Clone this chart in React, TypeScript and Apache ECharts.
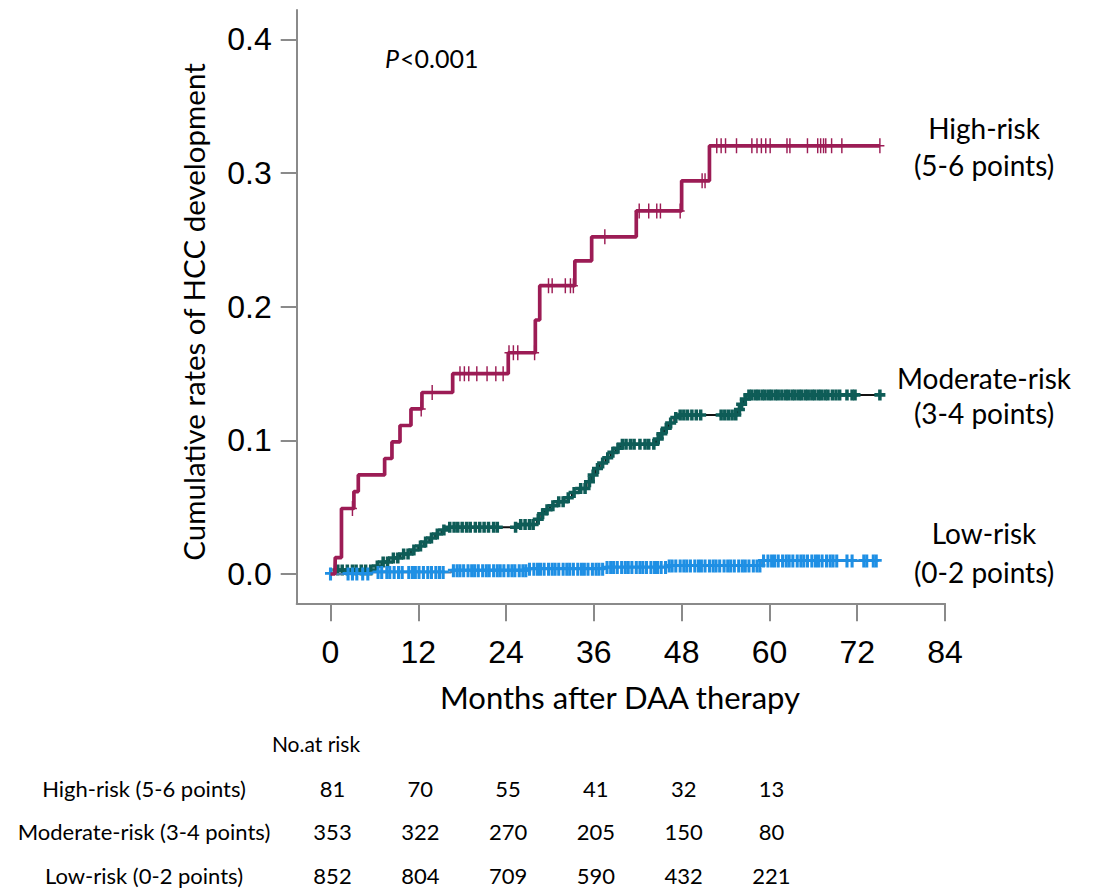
import React, { useEffect, useRef } from "react";
import * as echarts from "echarts";

// ---------------- data ----------------
const xTicks = [0, 12, 24, 36, 48, 60, 72, 84];
const yTicks = [0, 0.1, 0.2, 0.3, 0.4];

const groupNames = ["High-risk (5-6 points)", "Moderate-risk (3-4 points)", "Low-risk (0-2 points)"];
const curveLabels = [
  ["High-risk", "(5-6 points)"],
  ["Moderate-risk", "(3-4 points)"],
  ["Low-risk", "(0-2 points)"],
];

// Kaplan–Meier cumulative incidence steps: [month, cumulative rate from that month on]
const highSteps: [number, number][] = [
  [0, 0], [0.6, 0], [0.65, 0.0123], [1.5, 0.049], [3.2, 0.0617], [3.8, 0.0741],
  [7.4, 0.0864], [8.4, 0.0988], [9.5, 0.1111], [11.0, 0.1235], [12.5, 0.1358],
  [16.7, 0.1499], [24.3, 0.1655], [28.0, 0.19], [28.6, 0.2157], [33.4, 0.2343],
  [35.7, 0.2522], [41.8, 0.2716], [48.0, 0.2941], [51.8, 0.3203], [75.1, 0.3203],
];
const moderateSteps: [number, number][] = [
  [0, 0], [0.7, 0.003], [6.2, 0.006], [7.0, 0.009], [8.0, 0.012], [9.5, 0.015],
  [11.0, 0.018], [12.0, 0.021], [12.8, 0.024], [13.5, 0.027], [14.3, 0.030],
  [15.2, 0.033], [16.0, 0.035], [25.5, 0.037], [28.2, 0.041], [28.6, 0.045],
  [29.3, 0.048], [30.0, 0.051], [31.0, 0.054], [32.0, 0.057], [33.0, 0.061],
  [34.0, 0.064], [35.0, 0.069], [35.6, 0.074], [36.2, 0.079], [36.8, 0.083],
  [37.6, 0.087], [38.3, 0.091], [39.0, 0.094], [39.6, 0.097], [44.5, 0.101],
  [45.0, 0.105], [45.6, 0.109], [46.2, 0.113], [47.0, 0.117], [47.5, 0.119],
  [55.6, 0.123], [56.0, 0.127], [56.4, 0.131], [56.8, 0.134], [75.3, 0.134],
];
const lowSteps: [number, number][] = [
  [0, 0], [5.5, 0.0012], [16.5, 0.0024], [27.0, 0.0036], [37.5, 0.0048],
  [46.0, 0.006], [59.0, 0.0097], [74.6, 0.0097],
];

// censored observations (months)
const highCensor = [
  3.0, 12.4, 13.9, 17.7, 18.3, 18.9, 20.0, 21.4, 22.6, 23.6, 24.4, 25.0, 25.6, 27.9,
  29.8, 30.3, 32.1, 32.8, 33.2, 37.5, 42.2, 43.5, 44.6, 45.1, 47.8, 50.8, 51.2,
  52.8, 53.4, 54.0, 55.5, 57.6, 58.3, 58.9, 59.5, 60.1, 62.4, 62.8, 65.2, 66.6,
  67.0, 67.4, 67.7, 68.5, 69.9, 75.1,
];
const moderateCensor = [
  1.0, 1.6, 2.3, 3.0, 3.5, 4.2, 4.8, 5.5, 6.4, 7.2, 7.8, 8.6, 9.2, 10.0, 10.6, 11.4,
  12.3, 13.0, 13.8, 14.6, 15.5, 16.3, 16.9, 17.4, 18.0, 18.6, 19.1, 19.8, 20.4, 21.0,
  21.6, 22.3, 22.8, 25.3, 26.0, 26.6, 27.2, 27.7, 28.4, 29.0, 29.6, 30.4, 31.2, 31.8,
  32.5, 33.3, 34.2, 34.8, 35.4, 35.9, 36.5, 37.2, 37.9, 38.6, 39.3, 39.9, 40.4, 41.0,
  41.5, 42.3, 43.0, 43.5, 44.2, 44.8, 45.3, 45.9, 46.5, 47.2, 47.8, 48.3, 48.8, 49.4,
  50.0, 50.6, 53.4, 53.9, 54.4, 54.9, 55.4, 55.9, 56.2, 56.7, 57.2, 57.6, 58.1, 58.5,
  59.0, 59.4, 59.9, 60.3, 60.8, 61.2, 61.7, 62.2, 62.6, 63.1, 63.5, 64.0, 64.4, 64.9,
  65.3, 65.8, 66.2, 66.7, 67.1, 67.6, 68.0, 68.6, 69.1, 69.6, 70.6, 71.3, 71.7, 75.1,
];
const lowCensor = [
  0.0, 2.4, 3.0, 3.6, 4.4, 5.1, 6.5, 7.0, 7.7, 8.1, 8.7, 9.3, 9.8, 10.7, 11.2, 11.6,
  12.1, 12.7, 13.3, 13.8, 14.4, 14.9, 15.4, 16.8, 17.3, 17.7, 18.2, 18.8, 19.3, 19.7,
  20.2, 20.8, 21.3, 21.7, 22.3, 22.8, 23.2, 23.7, 24.3, 24.8, 25.2, 25.8, 26.3, 26.7,
  27.2, 27.8, 28.3, 28.7, 29.2, 29.8, 30.3, 30.7, 31.2, 31.8, 32.3, 32.7, 33.2, 33.8,
  34.3, 34.7, 35.2, 35.8, 36.3, 36.7, 37.2, 37.8, 38.3, 38.7, 39.2, 39.8, 40.3, 40.7,
  41.2, 41.8, 42.3, 42.7, 43.2, 43.8, 44.3, 44.7, 45.2, 45.8, 46.3, 46.7, 47.2, 47.8,
  48.3, 48.7, 49.2, 49.8, 50.3, 50.7, 51.2, 51.8, 52.3, 52.7, 53.2, 53.8, 54.3, 54.7,
  55.2, 55.8, 56.3, 56.7, 57.2, 57.8, 58.3, 58.7, 59.2, 59.8, 60.3, 60.7, 61.2, 61.8,
  62.3, 62.7, 63.2, 63.8, 64.3, 64.7, 65.2, 65.8, 66.3, 66.7, 67.2, 67.8, 68.3, 68.7,
  69.2, 70.6, 71.3, 72.9, 73.3, 74.2, 74.6,
];

// numbers at risk
const atRiskTimes = [0, 12, 24, 36, 48, 60];
const atRiskHigh = [81, 70, 55, 41, 32, 13];
const atRiskModerate = [353, 322, 270, 205, 150, 80];
const atRiskLow = [852, 804, 709, 590, 432, 221];

const pValueText = "<0.001";

// ---------------- styles ----------------
const HIGH = "#9c1c55";
const MOD_MARK = "#0e5c57";
const MOD_LINE = "#111111";
const LOW = "#1e8fe4";
const AXIS = "#8a8a8a";
const TITLE_FONT = "Lato";
const TICK_FONT = "Liberation Sans";

const PLUS_THIN = "path://M4.2,0H5.8V7.2H10V8.8H5.8V16H4.2V8.8H0V7.2H4.2Z";
const PLUS_BOLD = "path://M3.4,0H6.6V3.4H10V6.6H6.6V10H3.4V6.6H0V3.4H3.4Z";
const PLUS_LOW = "path://M3.6,0H6.4V4.2H10V6.6H6.4V12H3.6V6.6H0V4.2H3.6Z";

function valueAt(steps: [number, number][], t: number): number {
  let v = steps[0][1];
  for (const [st, sv] of steps) {
    if (st <= t) v = sv;
    else break;
  }
  return v;
}

export default function App() {
  const ref = useRef<HTMLDivElement>(null);

  useEffect(() => {
    document.body.style.margin = "0";
    if (!ref.current) return;
    const chart = echarts.init(ref.current, undefined, { renderer: "svg" });

    chart.setOption({
      animation: false,
      backgroundColor: "#ffffff",
      grid: { left: 296.7, right: 149, top: 10, bottom: 284.7, containLabel: false },
      xAxis: {
        type: "value",
        min: -4.62,
        max: 84,
        splitLine: { show: false },
        axisLine: { show: true, onZero: false, lineStyle: { color: AXIS, width: 2 } },
        axisTick: { show: true, customValues: xTicks, length: 18, lineStyle: { color: AXIS, width: 2 } },
        axisLabel: {
          customValues: xTicks,
          margin: 33,
          color: "#000",
          fontFamily: TICK_FONT,
          fontSize: 32,
          formatter: (v: number) => String(v),
        },
      },
      yAxis: {
        type: "value",
        min: -0.0219,
        max: 0.4219,
        splitLine: { show: false },
        axisLine: { show: true, onZero: false, lineStyle: { color: AXIS, width: 2 } },
        axisTick: { show: true, customValues: yTicks, length: 16, lineStyle: { color: AXIS, width: 2 } },
        axisLabel: {
          customValues: yTicks,
          margin: 25,
          color: "#000",
          fontFamily: TICK_FONT,
          fontSize: 32,
          formatter: (v: number) => v.toFixed(1),
        },
      },
      series: [
        {
          name: groupNames[1],
          type: "line",
          step: "end",
          data: moderateSteps,
          showSymbol: false,
          lineStyle: { color: MOD_LINE, width: 2 },
          z: 2,
          silent: true,
        },
        {
          name: groupNames[1] + " censored",
          type: "scatter",
          data: moderateCensor.map((t) => [t, valueAt(moderateSteps, t)]),
          symbol: PLUS_BOLD,
          symbolSize: [11, 11],
          itemStyle: { color: MOD_MARK, opacity: 1 },
          z: 3,
          silent: true,
        },
        {
          name: groupNames[2],
          type: "line",
          step: "end",
          data: lowSteps,
          showSymbol: false,
          lineStyle: { color: "#4b7fb0", width: 2 },
          z: 4,
          silent: true,
        },
        {
          name: groupNames[2] + " censored",
          type: "scatter",
          data: lowCensor.map((t) => [t, valueAt(lowSteps, t)]),
          symbol: PLUS_LOW,
          symbolSize: [11, 13],
          itemStyle: { color: LOW, opacity: 1 },
          z: 5,
          silent: true,
        },
        {
          name: groupNames[0],
          type: "line",
          step: "end",
          data: highSteps,
          showSymbol: false,
          lineStyle: { color: HIGH, width: 3.7 },
          z: 6,
          silent: true,
        },
        {
          name: groupNames[0] + " censored",
          type: "scatter",
          data: highCensor.map((t) => [t, valueAt(highSteps, t)]),
          symbol: PLUS_THIN,
          symbolSize: [9, 15],
          itemStyle: { color: HIGH, opacity: 1 },
          z: 7,
          silent: true,
        },
      ],
    });

    const colX = atRiskTimes.map((t) => chart.convertToPixel({ xAxisIndex: 0 }, t) as number);
    const rows = [atRiskHigh, atRiskModerate, atRiskLow];
    const rowY = [788, 831, 875];
    const rowLabelX = 144;
    const labelY = [
      [128, 165],
      [378, 413],
      [533, 572],
    ];

    const txt = (text: string, x: number, y: number, size: number, opts: any = {}) => ({
      type: "text",
      x,
      y,
      silent: true,
      rotation: opts.rotation || 0,
      style: {
        text,
        fill: "#000",
        font: `${opts.italic ? "italic " : ""}${size}px ${opts.family || TITLE_FONT}`,
        textAlign: opts.align || "center",
        textVerticalAlign: "middle",
      },
    });

    const graphics: any[] = [];
    graphics.push(txt("Cumulative rates of HCC development", 193, 312, 29.5, { rotation: Math.PI / 2 }));
    graphics.push(txt("Months after DAA therapy", 620, 697, 31));
    graphics.push(txt("P", 385, 58, 25, { italic: true, align: "left" }));
    graphics.push(txt(pValueText, 400, 58, 25, { align: "left" }));
    curveLabels.forEach((pair, i) => {
      graphics.push(txt(pair[0], 984, labelY[i][0], 28));
      graphics.push(txt(pair[1], 984, labelY[i][1], 28));
    });
    graphics.push(txt("No.at risk", 316, 743, 21));
    rows.forEach((vals, r) => {
      graphics.push(txt(groupNames[r], rowLabelX, rowY[r], 22));
      vals.forEach((v, c) => {
        graphics.push(txt(String(v), colX[c] + 2, rowY[r], 22));
      });
    });

    chart.setOption({ graphic: graphics });

    return () => chart.dispose();
  }, []);

  return <div ref={ref} style={{ width: 1094, height: 888 }} />;
}
